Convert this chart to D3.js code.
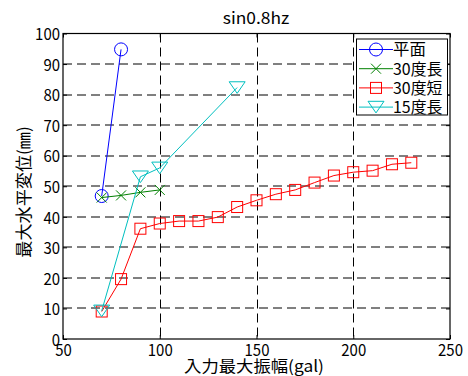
<!DOCTYPE html>
<html>
<head>
<meta charset="utf-8">
<script src="https://cdn.jsdelivr.net/npm/d3@7"></script>
<style>
  html, body { margin: 0; padding: 0; background: #fff; }
  svg { display: block; }
  text { font-family: "Noto Sans CJK JP", "Noto Sans", sans-serif; fill: #000; }
</style>
</head>
<body>
<svg id="chart" width="468" height="376"></svg>
<script>
// ---- data ----
const titleText = "sin0.8hz";
const xLabelText = "入力最大振幅(gal)";
const yLabelText = "最大水平変位(㎜)";
const xTicks = [50, 100, 150, 200, 250];
const yTicks = [0, 10, 20, 30, 40, 50, 60, 70, 80, 90, 100];

const seriesNames = ["平面", "30度長", "30度短", "15度長"];
const xFlat = [70, 80];
const yFlat = [46.8, 94.8];
const x30Long = [70, 80, 90, 100];
const y30Long = [46.3, 47.0, 48.0, 48.8];
const x30Short = [70, 80, 90, 100, 110, 120, 130, 140, 150, 160, 170, 180, 190, 200, 210, 220, 230];
const y30Short = [9.0, 19.6, 36.1, 37.8, 38.6, 38.6, 39.9, 43.2, 45.4, 47.4, 48.8, 51.2, 53.5, 54.6, 55.1, 57.2, 57.7];
const x15Long = [70, 90, 100, 140];
const y15Long = [9.2, 53.1, 56.0, 82.3];

// ---- layout ----
const L = 63, R = 450, T = 33.5, B = 339;
const svg = d3.select("#chart");
const x = d3.scaleLinear().domain([50, 250]).range([L, R]);
const y = d3.scaleLinear().domain([0, 100]).range([B, T]);

const colors = ["#0000ff", "#008000", "#ff0000", "#00bfbf"];
const markers = ["circle", "x", "square", "tri"];
const series = [
  {name: seriesNames[0], xs: xFlat, ys: yFlat},
  {name: seriesNames[1], xs: x30Long, ys: y30Long},
  {name: seriesNames[2], xs: x30Short, ys: y30Short},
  {name: seriesNames[3], xs: x15Long, ys: y15Long}
];

// monospace-like width fitting (half-width / full-width)
function fitWidth(sel, half = 8.3, full = 16.4) {
  sel.each(function() {
    const s = this.textContent;
    let w = 0;
    for (const ch of s) w += (ch.charCodeAt(0) < 0x2000) ? half : full;
    d3.select(this).attr("textLength", w).attr("lengthAdjust", "spacingAndGlyphs");
  });
}

// grid
const grid = svg.append("g").attr("stroke", "#000").attr("stroke-width", 1).attr("stroke-dasharray", "9,5");
grid.selectAll("line.gx").data(xTicks.slice(1, -1)).join("line")
  .attr("x1", d => Math.round(x(d)) + 0.5).attr("x2", d => Math.round(x(d)) + 0.5)
  .attr("y1", T).attr("y2", B);
grid.selectAll("line.gy").data(yTicks.slice(1, -1)).join("line")
  .attr("y1", d => Math.round(y(d))).attr("y2", d => Math.round(y(d)))
  .attr("x1", L).attr("x2", R);

// axes (ticks inward)
const axB = svg.append("g").attr("transform", `translate(0,${B})`)
  .call(d3.axisBottom(x).tickValues(xTicks).tickSizeInner(-4).tickSizeOuter(0).tickPadding(8));
const axT = svg.append("g").attr("transform", `translate(0,${T})`)
  .call(d3.axisTop(x).tickValues(xTicks).tickSizeInner(-4).tickSizeOuter(0).tickFormat(""));
const axL = svg.append("g").attr("transform", `translate(${L},0)`)
  .call(d3.axisLeft(y).tickValues(yTicks).tickSizeInner(-4).tickSizeOuter(0).tickPadding(7));
const axR = svg.append("g").attr("transform", `translate(${R},0)`)
  .call(d3.axisRight(y).tickValues(yTicks).tickSizeInner(-4).tickSizeOuter(0).tickFormat(""));
[axB, axT, axL, axR].forEach(a => {
  a.select(".domain").remove();
  a.selectAll("line").attr("stroke", "#000");
});
axB.selectAll("text").attr("font-size", 16).attr("dy", null).attr("y", 16.5);
axL.selectAll("text").attr("font-size", 16).attr("dy", null).attr("y", 6.2).attr("x", -3);
fitWidth(axB.selectAll("text"));
fitWidth(axL.selectAll("text"));

// frame
svg.append("rect").attr("x", L).attr("y", T).attr("width", R - L).attr("height", B - T)
  .attr("fill", "none").attr("stroke", "#000").attr("stroke-width", 1.2);

// marker drawing
function drawMarker(g, type, color) {
  if (type === "circle") {
    g.append("circle").attr("r", 6.5).attr("fill", "none").attr("stroke", color);
  } else if (type === "x") {
    g.append("path").attr("d", "M-5,-5L5,5M-5,5L5,-5").attr("stroke", color).attr("fill", "none");
  } else if (type === "square") {
    g.append("rect").attr("x", -5.5).attr("y", -5.5).attr("width", 11).attr("height", 11)
      .attr("fill", "none").attr("stroke", color);
  } else {
    g.append("path").attr("d", "M-8,-5.8L8,-5.8L0,5.8Z").attr("fill", "none").attr("stroke", color);
  }
}

const line = d3.line().x(d => x(d[0])).y(d => y(d[1]));
series.forEach((s, i) => {
  const pts = s.xs.map((v, k) => [v, s.ys[k]]);
  const g = svg.append("g");
  g.append("path").attr("d", line(pts)).attr("fill", "none").attr("stroke", colors[i]).attr("stroke-width", 1);
  g.selectAll("g.m").data(pts).join("g")
    .attr("transform", d => `translate(${x(d[0])},${y(d[1])})`)
    .each(function() { drawMarker(d3.select(this), markers[i], colors[i]); });
});

// legend
const lg = svg.append("g");
lg.append("rect").attr("x", 356.5).attr("y", 39).attr("width", 91).attr("height", 76)
  .attr("fill", "#fff").attr("stroke", "#000").attr("stroke-width", 1);
series.forEach((s, i) => {
  const cy = 49.5 + i * 19.2;
  lg.append("line").attr("x1", 359).attr("x2", 393).attr("y1", cy).attr("y2", cy)
    .attr("stroke", colors[i]).attr("stroke-width", 1);
  const mg = lg.append("g").attr("transform", `translate(376,${cy})`);
  drawMarker(mg, markers[i], colors[i]);
  const t = lg.append("text").attr("x", 393).attr("y", cy + 5.8).attr("font-size", 15.5).text(s.name);
  fitWidth(t);
});

// title & labels
const tt = svg.append("text").attr("x", 256).attr("y", 24).attr("text-anchor", "middle")
  .attr("font-size", 16).text(titleText);
fitWidth(tt);
const xl = svg.append("text").attr("x", 254).attr("y", 372).attr("text-anchor", "middle")
  .attr("font-size", 16).text(xLabelText);
fitWidth(xl);
const yl = svg.append("text").attr("transform", "translate(30,192) rotate(-90)")
  .attr("text-anchor", "middle").attr("font-size", 16.5).text(yLabelText);
fitWidth(yl);
</script>
</body>
</html>
